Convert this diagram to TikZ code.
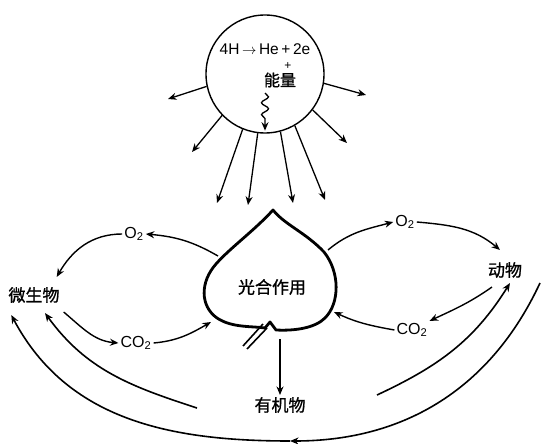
\documentclass[tikz,border=0pt]{standalone}
\usepackage{fontspec}
\setmainfont{Liberation Sans}
\newfontfamily\cjk[FakeBold=1]{Noto Sans CJK SC}
\usepackage{tikz}
\usetikzlibrary{arrows.meta,positioning,decorations.pathmorphing}

\begin{document}
\begin{tikzpicture}[x=1pt, y=1pt, >={Stealth[length=8.5pt,width=7pt]},
 every node/.style={inner sep=2pt},
 zh/.style={font=\cjk\fontsize{17}{19}\selectfont},
 chem/.style={font=\fontsize{16}{18}\selectfont},
 flow/.style={->, line width=1.4pt},
 ray/.style={->, line width=1.3pt}]
\useasboundingbox (0,0) rectangle (542,-444);
% sun and the fusion reaction
\node[draw, circle, line width=1.4pt, minimum size=118pt, inner sep=0pt] (sun) at (265,-74) {};
\node[chem, font=\fontsize{15.5}{18}\selectfont, inner sep=0pt] (fusion) at (265,-49) {4H\,$\rightarrow$\,He\,+\,2e};
\node[font=\fontsize{12}{14}\selectfont, inner sep=0pt] (plus) at (288,-66) {+};
\node[zh, font=\cjk\fontsize{16}{18}\selectfont] (energy) at (280,-80) {能量};
\coordinate (wave) at (265,-93);
\draw[->, line width=1.3pt, decorate, decoration={snake, amplitude=3.5pt, segment length=12pt, post length=9pt}] (wave) -- ([yshift=3]sun.south);
% light going out
\coordinate (r1) at (168,-99);
\coordinate (r2) at (192,-152);
\coordinate (r3) at (217,-203);
\coordinate (r4) at (248,-205);
\coordinate (r5) at (293,-203);
\coordinate (r6) at (325,-200);
\coordinate (r7) at (347,-143);
\coordinate (r8) at (366,-95);
\draw[ray] (sun.192) -- (r1);
\draw[ray] (sun.224) -- (r2);
\draw[ray] (sun.248) -- (r3);
\draw[ray] (sun.263) -- (r4);
\draw[ray] (sun.285) -- (r5);
\draw[ray] (sun.300) -- (r6);
\draw[ray] (sun.323) -- (r7);
\draw[ray] (sun.351) -- (r8);
% leaf
\draw[line width=2.8pt, line join=round] (273,-210) .. controls (255,-230) and (230,-248) .. (216,-264)
 .. controls (200,-282) and (200,-306) .. (217,-318) .. controls (232,-328) and (252,-326) .. (265,-328)
 -- (270,-322) -- (276,-330) .. controls (295,-331) and (315,-328) .. (325,-318)
 .. controls (340,-303) and (340,-272) .. (324,-252) .. controls (305,-232) and (285,-225) .. (273,-210) -- cycle;
\draw[line width=1.6pt] (263,-324) -- (243,-346);
\draw[line width=1.6pt] (267,-328) -- (247,-349);
\node[zh] (photo) at (272,-287) {光合作用};
\coordinate (leafUL) at (218,-256);
\coordinate (leafLL) at (211,-322);
\coordinate (leafUR) at (328,-250);
\coordinate (leafLR) at (334,-312);
\coordinate (leafB) at (280,-339);
% products and consumers
\node[zh] (organic) at (280,-405) {有机物};
\node[zh] (microbe) at (34,-295) {微生物};
\node[zh] (animal) at (505,-270) {动物};
\node[chem] (o2l) at (134,-234) {O\textsubscript{2}};
\node[chem] (co2l) at (136,-343) {CO\textsubscript{2}};
\node[chem] (o2r) at (405,-222) {O\textsubscript{2}};
\node[chem] (co2r) at (412,-330) {CO\textsubscript{2}};
\draw[flow] (leafB) -- (organic.north);
\draw[flow] (leafUL) to[out=150,in=-5] (o2l.east);
\draw[flow] (o2l.west) to[out=180,in=60] ([shift={(-5,8)}]microbe.north east);
\draw[flow] ([shift={(2,-7)}]microbe.south east) to[out=-40,in=175] (co2l.west);
\draw[flow] (co2l.east) to[out=5,in=210] (leafLL);
\draw[flow] (leafUR) to[out=40,in=195] (o2r.west);
\draw[flow] (o2r.east) to[out=-5,in=140] ([shift={(-5,10)}]animal.north);
\draw[flow] ([shift={(-13,-7)}]animal.south) to[out=215,in=25] (co2r.north east);
\draw[flow] (co2r.west) to[out=170,in=-25] (leafLR);
% return paths
\coordinate (retL) at (197,-408);
\coordinate (retR) at (377,-395);
\coordinate (outR) at (540,-283);
\coordinate (bot) at (290,-441);
\draw[flow, line width=1.6pt] (retL) to[out=162,in=-54] ([shift={(11,-8)}]microbe.south);
\draw[flow, line width=1.6pt] (retR) to[out=25,in=238] ([shift={(5,-3)}]animal.south);
\draw[flow, line width=1.6pt] (outR) to[out=245,in=0] (bot);
\draw[flow, line width=1.6pt] (bot) to[out=180,in=-62] ([shift={(5,-10)}]microbe.south west);
\end{tikzpicture}
\end{document}
